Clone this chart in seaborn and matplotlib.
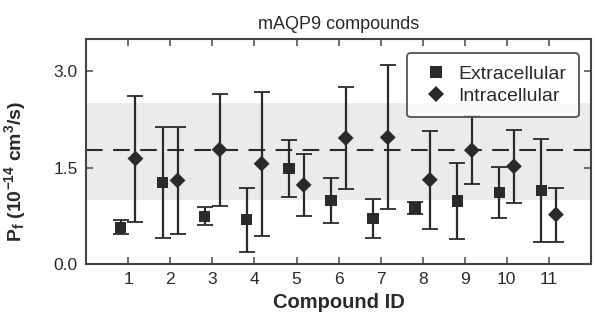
import matplotlib
matplotlib.use('Agg')
import matplotlib.pyplot as plt
import seaborn as sns
import pandas as pd

# values
compounds = [1, 2, 3, 4, 5, 6, 7, 8, 9, 10, 11]
extra_mean = [0.57, 1.27, 0.74, 0.69, 1.49, 0.99, 0.71, 0.87, 0.98, 1.11, 1.14]
extra_err = [0.11, 0.86, 0.14, 0.50, 0.44, 0.35, 0.30, 0.09, 0.59, 0.40, 0.80]
intra_mean = [1.64, 1.30, 1.78, 1.56, 1.23, 1.96, 1.97, 1.31, 1.77, 1.52, 0.77]
intra_err = [0.98, 0.83, 0.87, 1.12, 0.48, 0.80, 1.12, 0.76, 0.53, 0.57, 0.42]
reference_mean = 1.77
reference_band = (1.0, 2.5)

sns.set_style('ticks')
plt.rcParams['font.family'] = ['Liberation Sans', 'DejaVu Sans']
plt.rcParams['mathtext.default'] = 'regular'

ink = '#2a2a2a'

df = pd.concat([
    pd.DataFrame({'compound': compounds, 'pf': extra_mean, 'err': extra_err,
                  'side': 'Extracellular', 'shift': -0.18}),
    pd.DataFrame({'compound': compounds, 'pf': intra_mean, 'err': intra_err,
                  'side': 'Intracellular', 'shift': 0.17}),
], ignore_index=True)
df['x'] = df['compound'] + df['shift']

fig = plt.figure(figsize=(5.95, 3.2), dpi=100)
ax = fig.add_axes([0.145, 0.175, 0.848, 0.703])

# shaded range and dashed reference line
ax.axhspan(*reference_band, color='#ebebeb', lw=0, zorder=0)
ax.axhline(reference_mean, color=ink, lw=1.5, dashes=(8, 5), zorder=1)

ax.errorbar(df['x'], df['pf'], yerr=df['err'], fmt='none', ecolor=ink,
            elinewidth=1.6, capsize=5.5, capthick=1.3, zorder=2)
sns.scatterplot(data=df, x='x', y='pf', style='side',
                markers={'Extracellular': 's', 'Intracellular': 'D'},
                color=ink, s=65, edgecolor=ink, linewidth=0, zorder=3, ax=ax)

ax.set_xlim(0, 12)
ax.set_ylim(0, 3.5)
ax.set_xticks(compounds)
ax.set_yticks([0.0, 1.5, 3.0])
ax.set_yticklabels(['0.0', '1.5', '3.0'])
ax.tick_params(direction='in', top=True, right=True, length=5, width=1.2,
               color='#555555', labelsize=12.5, labelcolor=ink, pad=6)
for sp in ax.spines.values():
    sp.set_color('#444444')
    sp.set_linewidth(1.5)

ax.set_title('mAQP9 compounds', fontsize=13, color=ink, pad=7)
ax.set_xlabel('Compound ID', fontsize=14.5, fontweight='bold', color=ink, labelpad=4)
ax.set_ylabel(r'P$_f$ (10$^{-14}$ cm$^3$/s)', fontsize=14, fontweight='bold',
              color=ink)
ax.yaxis.set_label_coords(-0.115, 0.41)

leg = ax.legend(loc='upper right', bbox_to_anchor=(0.985, 0.955), fontsize=14,
                frameon=True, edgecolor=ink, fancybox=True, handletextpad=0.3,
                borderpad=0.65, labelspacing=0.2, handlelength=1.7,
                borderaxespad=0.2)
leg.get_frame().set_linewidth(1.3)
for t in leg.get_texts():
    t.set_color(ink)

fig.savefig('out.png', dpi=100)
